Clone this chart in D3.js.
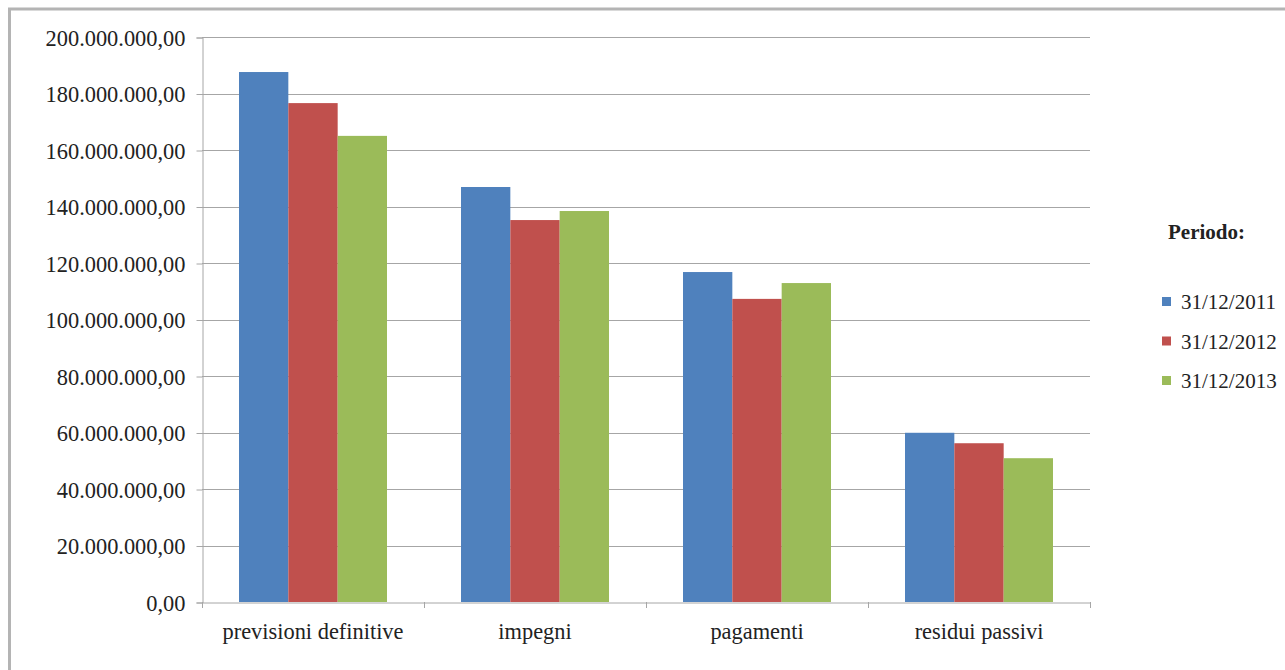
<!DOCTYPE html>
<html>
<head>
<meta charset="utf-8">
<script src="https://cdn.jsdelivr.net/npm/d3@7"></script>
<style>
  html, body { margin: 0; padding: 0; background: #fff; }
  svg { display: block; }
</style>
</head>
<body>
<svg id="chart" width="1285" height="670"></svg>
<script>
// Budget aggregates by category, for each reporting date
const categories = ["previsioni definitive", "impegni", "pagamenti", "residui passivi"];
const periods = ["31/12/2011", "31/12/2012", "31/12/2013"];
const values2011 = [187600000, 146900000, 116800000, 59900000];
const values2012 = [176600000, 135200000, 107300000, 56200000];
const values2013 = [165000000, 138400000, 112900000, 50900000];
const yTicks = [0, 20000000, 40000000, 60000000, 80000000, 100000000,
                120000000, 140000000, 160000000, 180000000, 200000000];
const colors = ["#4F81BD", "#C0504D", "#9BBB59"];

const series = [values2011, values2012, values2013];
const FONT = "'Times New Roman', 'Liberation Serif', 'DejaVu Serif', serif";

const svg = d3.select("#chart");

// outer frame
svg.append("rect")
  .attr("x", 9.5).attr("y", 9)
  .attr("width", 1290).attr("height", 680)
  .attr("fill", "none").attr("stroke", "#b4b4b4").attr("stroke-width", 3);

const plot = { left: 202, right: 1090, top: 37, bottom: 602 };

const y = d3.scaleLinear().domain([0, 200000000]).range([plot.bottom, plot.top]);
const x = d3.scaleBand().domain(categories).range([plot.left, plot.right]).padding(0);
// Group of three bars with gap width equal to 1.5 bar widths
const barW = x.bandwidth() / 4.5;
const xs = d3.scaleBand().domain(d3.range(series.length))
  .range([0, barW * 3]);

const fmt = d3.formatLocale({ decimal: ",", thousands: ".", grouping: [3], currency: ["€", ""] }).format(",.2f");

// gridlines
svg.append("g").selectAll("line").data(yTicks.filter(d => d > 0)).join("line")
  .attr("x1", plot.left).attr("x2", plot.right)
  .attr("y1", d => Math.round(y(d)) + 0.5).attr("y2", d => Math.round(y(d)) + 0.5)
  .attr("stroke", "#a6a6a6").attr("stroke-width", 1);

// y axis
const yAxis = svg.append("g")
  .attr("transform", `translate(${plot.left + 0.5},0.5)`)
  .call(d3.axisLeft(y).tickValues(yTicks).tickFormat(fmt).tickSize(6).tickPadding(11));
yAxis.attr("font-family", null).attr("font-size", null);
yAxis.select(".domain").attr("stroke", "#a6a6a6");
yAxis.selectAll(".tick line").attr("stroke", "#a6a6a6");
yAxis.selectAll(".tick text")
  .style("font-family", FONT).style("font-size", "22.4px").attr("fill", "#222")
  .attr("dy", "0.35em");

// bars
const groups = svg.append("g").selectAll("g").data(categories).join("g")
  .attr("transform", c => `translate(${x(c) + (x.bandwidth() - barW * 3) / 2},0)`);
groups.selectAll("rect")
  .data((c, i) => series.map((s, k) => ({ k, v: s[i] })))
  .join("rect")
  .attr("x", d => xs(d.k))
  .attr("width", xs.bandwidth())
  .attr("y", d => y(d.v))
  .attr("height", d => y(0) - y(d.v))
  .attr("fill", d => colors[d.k]);

// x axis
const xAxis = svg.append("g")
  .attr("transform", `translate(0,${plot.bottom + 0.5})`)
  .call(d3.axisBottom(x).tickSize(0).tickPadding(21));
xAxis.attr("font-family", null).attr("font-size", null);
xAxis.select(".domain").attr("stroke", "#a6a6a6");
xAxis.selectAll(".tick text")
  .style("font-family", FONT).style("font-size", "22.4px").attr("fill", "#222");
// tick marks on category boundaries
svg.append("g").selectAll("line")
  .data(categories.map(c => x(c) + x.bandwidth()).concat([plot.left]))
  .join("line")
  .attr("x1", d => Math.round(d) + 0.5).attr("x2", d => Math.round(d) + 0.5)
  .attr("y1", plot.bottom).attr("y2", plot.bottom + 6)
  .attr("stroke", "#a6a6a6");

// legend
const legend = svg.append("g").attr("transform", "translate(1162,0)");
legend.append("text")
  .attr("x", 6).attr("y", 239)
  .style("font-family", FONT).style("font-size", "21px").style("font-weight", "bold")
  .attr("fill", "#222")
  .text("Periodo:");
const items = legend.selectAll("g.item").data(periods).join("g")
  .attr("class", "item")
  .attr("transform", (d, i) => `translate(0,${302 + i * 39.5})`);
items.append("rect")
  .attr("x", 0).attr("y", -5).attr("width", 9).attr("height", 9)
  .attr("fill", (d, i) => colors[i]);
items.append("text")
  .attr("x", 19).attr("y", 0).attr("dy", "0.35em")
  .style("font-family", FONT).style("font-size", "21px").attr("fill", "#222")
  .text(d => d);
</script>
</body>
</html>
